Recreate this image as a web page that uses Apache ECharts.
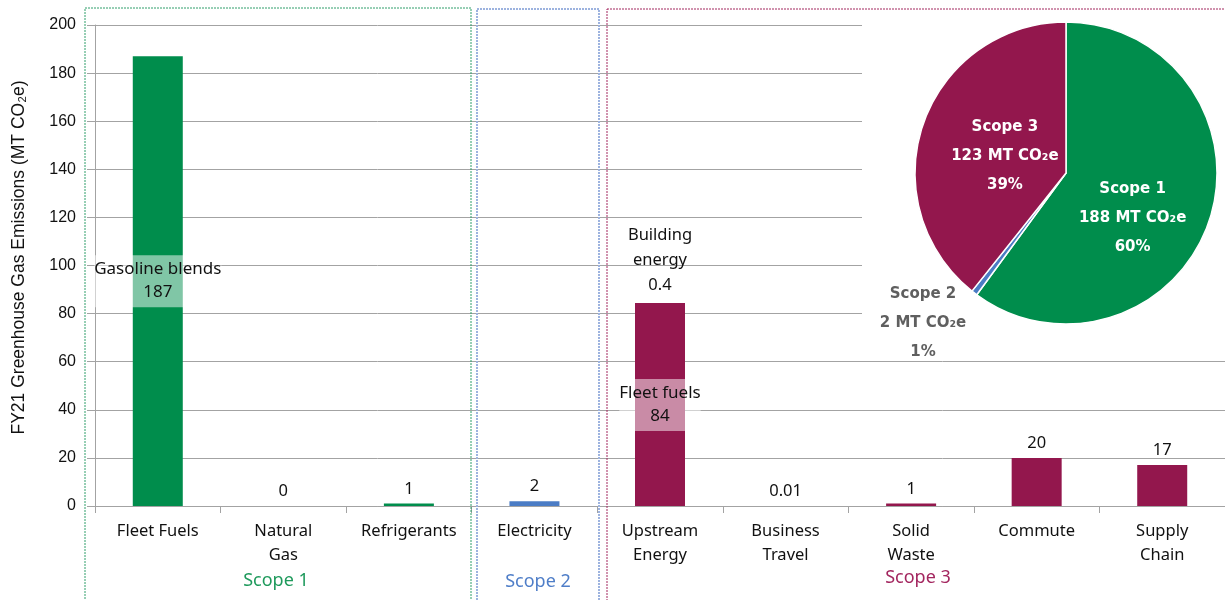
<!DOCTYPE html>
<html>
<head>
<meta charset="utf-8">
<script src="https://cdn.jsdelivr.net/npm/echarts@6/dist/echarts.min.js"></script>
<style>
  html, body { margin: 0; padding: 0; background: #fff; }
  #chart { width: 1225px; height: 600px; }
</style>
</head>
<body>
<div id="chart"></div>
<script>
// FY21 greenhouse gas emissions by source (MT CO2e)
const categories = ['Fleet Fuels', 'Natural\nGas', 'Refrigerants', 'Electricity',
  'Upstream\nEnergy', 'Business\nTravel', 'Solid\nWaste', 'Commute', 'Supply\nChain'];
const scope1Values = [187, 0, 1, '-', '-', '-', '-', '-', '-'];
const scope2Values = ['-', '-', '-', 2, '-', '-', '-', '-', '-'];
const scope3Values = ['-', '-', '-', '-', 84, 0.01, 1, 20, 17];
const buildingEnergyValues = ['-', '-', '-', '-', 0.4, '-', '-', '-', '-'];
const yTicks = [0, 20, 40, 60, 80, 100, 120, 140, 160, 180, 200];

// Totals by scope for the inset pie
const scopeNames = ['Scope 1', 'Scope 2', 'Scope 3'];
const scopeTotals = [188, 2, 123];

const FONT = "'Noto Sans', sans-serif";
const AXIS_FONT = "'Liberation Sans', Arial, sans-serif";
const PIE_FONT = "'DejaVu Sans', sans-serif";
const GREEN = '#008d4c';
const BLUE = '#4b7cc5';
const MAROON = '#93174d';
const TEXT = '#111111';
const GRID = '#a3a3a3';

const chart = echarts.init(document.getElementById('chart'), null, { renderer: 'canvas' });

const topLabel = {
  show: true, position: 'top', distance: 6,
  color: TEXT, fontFamily: FONT, fontSize: 16.5
};
const innerLabel = (title) => ({
  show: true, position: 'inside',
  formatter: (p) => title + '\n' + p.value,
  color: TEXT, fontFamily: FONT, fontSize: 17, lineHeight: 23,
  backgroundColor: 'rgba(255,255,255,0.5)', padding: [3, 0, 3, 0]
});

const option = {
  animation: false,
  grid: { left: 95, top: 25, width: 1143, height: 481, containLabel: false },
  xAxis: {
    type: 'category',
    data: categories,
    axisLine: { lineStyle: { color: GRID, width: 1 } },
    axisTick: { show: true, length: 7, lineStyle: { color: GRID } },
    axisLabel: { color: TEXT, fontFamily: FONT, fontSize: 16.5, lineHeight: 24, margin: 13, interval: 0 }
  },
  yAxis: {
    type: 'value',
    min: yTicks[0], max: yTicks[yTicks.length - 1], interval: yTicks[1] - yTicks[0],
    name: 'FY21 Greenhouse Gas Emissions (MT CO₂e)',
    nameLocation: 'middle', nameRotate: 90, nameGap: 67,
    nameTextStyle: { color: TEXT, fontFamily: AXIS_FONT, fontSize: 17.5, padding: [0, 0, 0, 16] },
    axisLine: { show: true, lineStyle: { color: GRID } },
    axisTick: { show: true, length: 8, lineStyle: { color: GRID } },
    splitLine: { lineStyle: { color: GRID, width: 1 } },
    axisLabel: { color: TEXT, fontFamily: AXIS_FONT, fontSize: 16, margin: 19 }
  },
  graphic: {
    elements: [
      // scope group frames
      { type: 'rect', z: 1, shape: { x: 85, y: 8, width: 386, height: 610 },
        style: { fill: 'none', stroke: '#2f9e6b', lineWidth: 1, lineDash: [2, 1] } },
      { type: 'rect', z: 1, shape: { x: 477, y: 9, width: 122, height: 610 },
        style: { fill: 'none', stroke: '#9db3df', lineWidth: 2, lineDash: [2, 1] } },
      { type: 'rect', z: 1, shape: { x: 607, y: 9, width: 640, height: 610 },
        style: { fill: 'none', stroke: '#a3265f', lineWidth: 1, lineDash: [2, 1] } },
      // backdrop behind the inset pie
      { type: 'rect', z: 5, shape: { x: 862, y: 11, width: 363, height: 345 },
        style: { fill: '#ffffff' } },
      // scope captions
      { type: 'text', z: 6, x: 276, y: 581,
        style: { text: 'Scope 1', fill: '#1f9a5c', font: "18px 'Noto Sans', sans-serif", align: 'center', verticalAlign: 'middle' } },
      { type: 'text', z: 6, x: 538, y: 582,
        style: { text: 'Scope 2', fill: '#4f7ec8', font: "18px 'Noto Sans', sans-serif", align: 'center', verticalAlign: 'middle' } },
      { type: 'text', z: 6, x: 918, y: 578,
        style: { text: 'Scope 3', fill: '#a3265f', font: "18px 'Noto Sans', sans-serif", align: 'center', verticalAlign: 'middle' } }
    ]
  },
  series: [
    {
      name: 'Scope 1', type: 'bar', stack: 'total', barWidth: 50,
      itemStyle: { color: GREEN },
      label: topLabel,
      data: scope1Values.map((v, i) => i === 0 ? { value: v, label: innerLabel('Gasoline blends') } : v)
    },
    {
      name: 'Scope 2', type: 'bar', stack: 'total', barWidth: 50,
      itemStyle: { color: BLUE },
      label: topLabel,
      data: scope2Values
    },
    {
      name: 'Scope 3', type: 'bar', stack: 'total', barWidth: 50,
      itemStyle: { color: MAROON },
      label: topLabel,
      data: scope3Values.map((v, i) => i === 4 ? { value: v, label: innerLabel('Fleet fuels') } : v)
    },
    {
      name: 'Building energy', type: 'bar', stack: 'total', barWidth: 50,
      itemStyle: { color: MAROON },
      label: Object.assign({}, topLabel, {
        formatter: (p) => 'Building\nenergy\n' + p.value, lineHeight: 25, distance: 5
      }),
      data: buildingEnergyValues
    },
    {
      name: 'Scope share', type: 'pie', z: 10,
      center: [1066, 173], radius: [0, 151],
      startAngle: 90, clockwise: true,
      percentPrecision: 0,
      itemStyle: { borderColor: '#ffffff', borderWidth: 1.5 },
      label: {
        show: true, position: 'inside',
        formatter: (p) => p.name + '\n' + p.value + ' MT CO₂e\n' + p.percent + '%',
        color: '#ffffff', fontFamily: PIE_FONT, fontSize: 15, fontWeight: 'bold', lineHeight: 29
      },
      labelLine: { show: false },
      labelLayout: (params) => {
        if (params.dataIndex === 1) return { x: 923, y: 323, align: 'center', verticalAlign: 'middle' };
        if (params.dataIndex === 0) return { dx: -8, dy: 21 };
        return { dx: 13, dy: 9 };
      },
      data: scopeNames.map((n, i) => ({
        name: n, value: scopeTotals[i],
        itemStyle: { color: [GREEN, BLUE, MAROON][i] },
        label: i === 1 ? { color: '#5f5f5f' } : undefined
      }))
    }
  ]
};

chart.setOption(option);
</script>
</body>
</html>
